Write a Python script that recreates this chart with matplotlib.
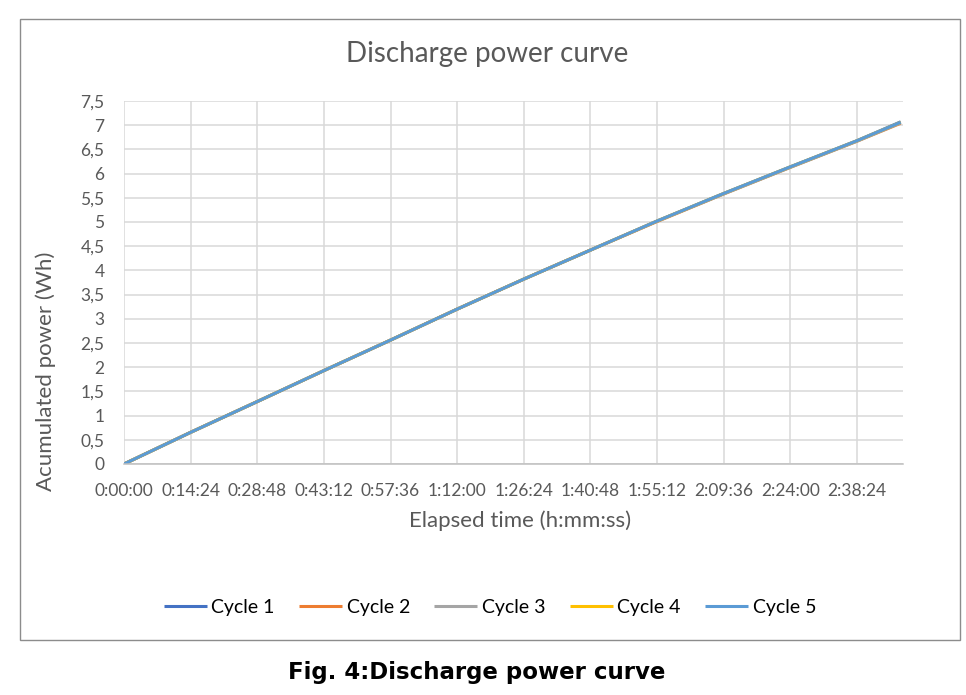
import matplotlib
matplotlib.use("Agg")
from matplotlib import pyplot as plt
from matplotlib.ticker import FuncFormatter, MultipleLocator
from matplotlib.patches import Rectangle

# elapsed time in seconds, read at each 0:14:24 gridline plus the last point
elapsed_s = [0, 864, 1728, 2592, 3456, 4320, 5184, 6048, 6912, 7776, 8640, 9504, 10070]

# accumulated power (Wh) for each cycle
cycle_1 = [0, 0.655, 1.29, 1.93, 2.56, 3.20, 3.82, 4.42, 5.02, 5.59, 6.14, 6.68, 7.07]
cycle_2 = [0, 0.654, 1.29, 1.93, 2.56, 3.20, 3.82, 4.42, 5.01, 5.58, 6.13, 6.67, 7.04]
cycle_3 = [0, 0.654, 1.29, 1.93, 2.56, 3.20, 3.82, 4.42, 5.02, 5.58, 6.13, 6.67, 7.05]
cycle_4 = [0, 0.654, 1.29, 1.93, 2.56, 3.20, 3.82, 4.42, 5.02, 5.59, 6.14, 6.68, 7.06]
cycle_5 = [0, 0.654, 1.29, 1.93, 2.56, 3.20, 3.82, 4.42, 5.02, 5.59, 6.14, 6.68, 7.06]

series = [cycle_1, cycle_2, cycle_3, cycle_4, cycle_5]
labels = ["Cycle 1", "Cycle 2", "Cycle 3", "Cycle 4", "Cycle 5"]
colors = ["#4472C4", "#ED7D31", "#A5A5A5", "#FFC000", "#5B9BD5"]

text_col = "#595959"
plt.rcParams["font.family"] = ["Lato", "DejaVu Sans"]


def hms(x, pos=None):
    x = int(round(x))
    return f"{x // 3600}:{(x % 3600) // 60:02d}:{x % 60:02d}"


fig = plt.figure(figsize=(9.66, 6.95), dpi=100)
W, H = 966, 695

# outer chart frame
fig.patches.append(Rectangle((20 / W, 1 - 640 / H), 940 / W, 621 / H,
                             transform=fig.transFigure, fill=False,
                             edgecolor="#8C8C8C", linewidth=1.0))

ax = fig.add_axes([124 / W, 1 - 464 / H, 779 / W, 363 / H])

for vals, lab, col in zip(series, labels, colors):
    ax.plot(elapsed_s, vals, color=col, lw=2.2, label=lab, solid_capstyle="butt")

ax.set_xlim(0, 10100)
ax.set_ylim(0, 7.5)
ax.xaxis.set_major_locator(MultipleLocator(864))
ax.xaxis.set_major_formatter(FuncFormatter(hms))
ax.yaxis.set_major_locator(MultipleLocator(0.5))
ax.yaxis.set_major_formatter(FuncFormatter(lambda v, p: f"{v:g}".replace(".", ",")))

ax.grid(True, color="#D9D9D9", linewidth=1.1)
ax.set_axisbelow(True)
for s in ["top", "right", "left"]:
    ax.spines[s].set_visible(False)
ax.spines["bottom"].set_color("#BFBFBF")
ax.spines["bottom"].set_linewidth(1.1)
ax.tick_params(length=0, labelsize=12.5, colors=text_col)
ax.tick_params(axis="x", pad=14)
ax.tick_params(axis="y", pad=14)

ax.set_xlabel("Elapsed time (h:mm:ss)", fontsize=16, color=text_col)
ax.set_ylabel("Acumulated power (Wh)", fontsize=16, color=text_col)
ax.xaxis.set_label_coords(0.508, -0.156)
ax.yaxis.set_label_coords(-0.101, 0.256)
ax.xaxis.label.set_va("center")
ax.yaxis.label.set_va("center")

fig.text(487 / W, 1 - 54 / H, "Discharge power curve", fontsize=20,
         color=text_col, ha="center", va="center")

leg = fig.legend(loc="center", bbox_to_anchor=(490 / W, 1 - 607 / H), ncol=5,
                 frameon=False, fontsize=14, handlelength=2.2, handletextpad=0.25,
                 columnspacing=1.25)
for t in leg.get_texts():
    t.set_color("black")

fig.text(477 / W, 1 - 673 / H, "Fig. 4:Discharge power curve", fontsize=16.5,
         fontweight="bold", family=["DejaVu Sans"], color="black",
         ha="center", va="center")

fig.savefig("out.png", dpi=100)
